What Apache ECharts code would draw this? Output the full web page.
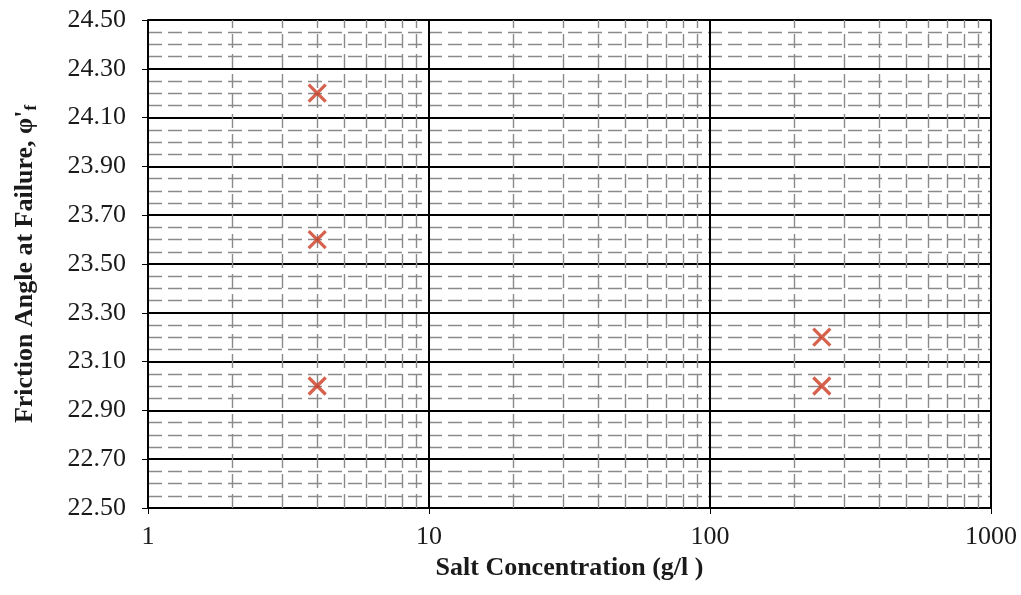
<!DOCTYPE html>
<html>
<head>
<meta charset="utf-8">
<script src="https://cdn.jsdelivr.net/npm/echarts@6/dist/echarts.min.js"></script>
<style>
  html, body { margin: 0; padding: 0; background: #fff; }
  #chart { width: 1021px; height: 595px; }
</style>
</head>
<body>
<div id="chart"></div>
<script>
// Salt concentration (g/l) and friction angle at failure (degrees)
const saltConc = [4, 4, 4, 250, 250];
const frictionAngle = [24.2, 23.6, 23.0, 23.2, 23.0];

// Axis ranges and log-paper minor grid positions
const xMin = 1, xMax = 1000;
const yMin = 22.5, yMax = 24.5, yStep = 0.2;
const minorX = [2, 3, 4, 5, 6, 7, 8, 9, 20, 30, 40, 50, 60, 70, 80, 90, 200, 300, 400, 500, 600, 700, 800, 900];

const serif = '"Liberation Serif", "Times New Roman", serif';
const dashed = { color: '#8a8a8a', width: 1.4, type: [14, 6] };

const chart = echarts.init(document.getElementById('chart'));
chart.setOption({
  backgroundColor: '#fff',
  animation: false,
  grid: {
    left: 148, right: 30, top: 20, bottom: 87,
    show: true, borderColor: '#000', borderWidth: 1.5
  },
  xAxis: {
    type: 'log', logBase: 10, min: xMin, max: xMax,
    name: 'Salt Concentration (g/l )',
    nameLocation: 'middle', nameGap: 46,
    nameTextStyle: { fontFamily: serif, fontWeight: 'bold', fontSize: 26, color: '#1a1a1a' },
    axisLine: { show: true, lineStyle: { color: '#000', width: 1.5 } },
    axisTick: { show: true, inside: false, length: 6, lineStyle: { color: '#000' } },
    axisLabel: { fontFamily: serif, fontSize: 26, color: '#1a1a1a', margin: 16, formatter: v => String(v) },
    splitLine: { show: true, lineStyle: { color: '#000', width: 2 } },
    minorTick: { show: false },
    minorSplitLine: { show: false }
  },
  yAxis: {
    type: 'value', min: yMin, max: yMax, interval: yStep,
    name: "Friction Angle at Failure, φ'{s|f}",
    nameLocation: 'middle', nameGap: 108,
    nameTextStyle: {
      fontFamily: serif, fontWeight: 'bold', fontSize: 26, color: '#1a1a1a',
      rich: { s: { fontFamily: serif, fontWeight: 'bold', fontSize: 17, color: '#1a1a1a', verticalAlign: 'bottom', padding: [12, 0, 0, 0] } }
    },
    axisLine: { show: true, lineStyle: { color: '#000', width: 1.5 } },
    axisTick: { show: true, inside: false, length: 6, lineStyle: { color: '#000' } },
    axisLabel: {
      fontFamily: serif, fontSize: 26, color: '#1a1a1a', margin: 22,
      formatter: v => v.toFixed(2)
    },
    splitLine: { show: true, lineStyle: { color: '#000', width: 2 } },
    minorTick: { show: false, splitNumber: 4 },
    minorSplitLine: { show: true, lineStyle: dashed }
  },
  series: [
    {
      // dashed vertical minor grid on the log axis
      type: 'scatter',
      data: [],
      silent: true,
      z: 1,
      markLine: {
        silent: true, symbol: 'none', animation: false,
        label: { show: false },
        lineStyle: dashed,
        data: minorX.map(v => ({ xAxis: v }))
      }
    },
    {
      type: 'scatter',
      z: 5,
      data: saltConc.map((x, i) => [x, frictionAngle[i]]),
      symbol: 'path://M0,0L10,10M10,0L0,10',
      symbolSize: 17,
      itemStyle: { color: 'transparent', borderColor: '#cc3a1f', borderWidth: 3.2 }
    }
  ]
});
</script>
</body>
</html>
